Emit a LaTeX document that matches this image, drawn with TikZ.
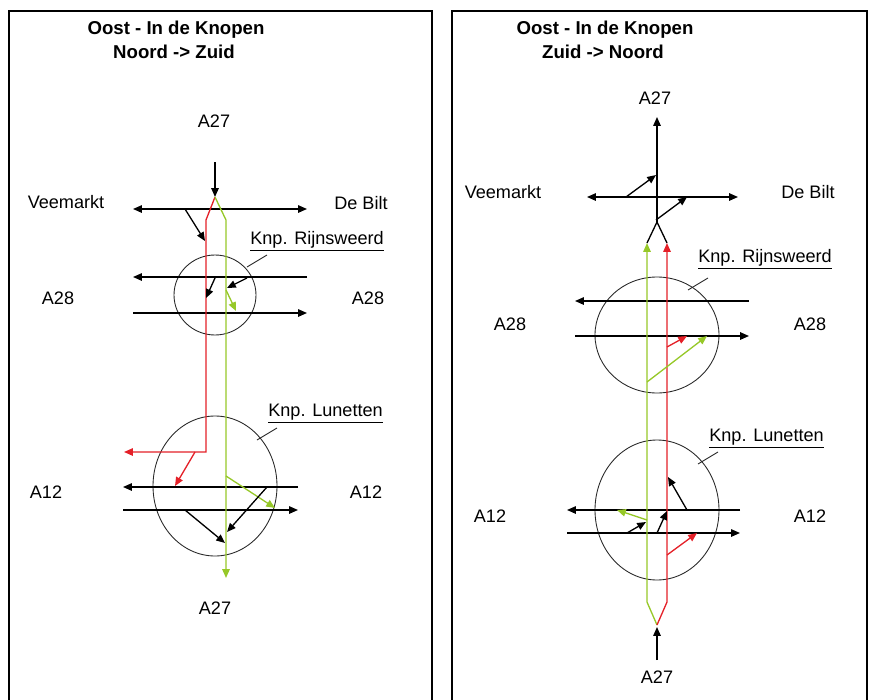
\documentclass[tikz,border=0pt]{standalone}
\usepackage{fontspec}
\setmainfont{Liberation Sans}
\usetikzlibrary{arrows.meta}
\definecolor{rroute}{RGB}{228,32,40}
\definecolor{groute}{RGB}{150,200,40}
\definecolor{ringc}{RGB}{40,40,40}
\tikzset{
  tip/.style={-{Triangle[length=5pt,width=4.2pt]}},
  dtip/.style={{Triangle[length=5pt,width=4.2pt]}-{Triangle[length=5pt,width=4.2pt]}},
  road/.style={black,line width=0.75pt},
  rr/.style={rroute,line width=0.75pt},
  gr/.style={groute,line width=0.75pt},
  ring/.style={ringc,line width=0.5pt},
  lbl/.style={font=\fontsize{10.3}{12}\selectfont,inner sep=0pt},
  ttl/.style={font=\fontsize{10.6}{13}\selectfont\bfseries,inner sep=0pt,align=center},
  frame/.style={black,line width=0.6pt}
}
\begin{document}
\begin{tikzpicture}[x=0.02cm,y=-0.02cm]
\useasboundingbox (0,0) rectangle (870,700);
% frames (open at the bottom, cut by the image edge)
\draw[frame] (9,702) -- (9,11) -- (432,11) -- (432,702);
\draw[frame] (452,702) -- (452,11) -- (867,11) -- (867,702);

% ================= LEFT PANEL =================
\node[ttl] (t1) at (176,30) {Oost - In de Knopen};
\node[ttl] (t2) at (174,52) {Noord -> Zuid};
\node[lbl] (la27t) at (214,121) {A27};
\node[lbl] (lvee) at (66,202) {Veemarkt};
\node[lbl] (lbilt) at (361,203) {De Bilt};
\node[lbl] (la28l) at (58,298) {A28};
\node[lbl] (la28r) at (368,298) {A28};
\node[lbl] (la12l) at (46,492) {A12};
\node[lbl] (la12r) at (366,492) {A12};
\node[lbl] (la27b) at (215,608) {A27};
\node[lbl,anchor=base west] (lknp1) at (250,244) {\underline{Knp. Rijnsweerd}};
\node[lbl,anchor=base west] (lknp2) at (268,416) {\underline{Knp. Lunetten}};

% circles
\draw[ring] (215,295) ellipse [x radius=41, y radius=40];
\draw[ring] (215,486) ellipse [x radius=62, y radius=70];
\draw[ring] (267,255) -- (247,267);
\draw[ring] (277,428) -- (257,440);

% A27 in
\draw[road,tip] (215,162) -- (215,197);
% Veemarkt - De Bilt
\draw[road,dtip] (133,209) -- (307,209);
% A28 lines
\draw[road,tip] (307,277) -- (133,277);
\draw[road,tip] (133,313) -- (307,313);
% A12 lines
\draw[road,tip] (298,487) -- (123,487);
\draw[road,tip] (123,510) -- (298,510);

% routes
\draw[rr,tip] (215,197) -- (206,220) -- (206,452) -- (124,452);
\draw[gr,tip] (215,197) -- (226,220) -- (226,578);

% small arrows left
\draw[road,tip] (185,209) -- (205,241);
\draw[road,tip] (215,278) -- (206,298);
\draw[road,tip] (247,278) -- (227,288);
\draw[gr,tip] (226,290) -- (236,311);
\draw[rr,tip] (195,452) -- (175,486);
\draw[gr,tip] (226,476) -- (275,508);
\draw[road,tip] (267,487) -- (227,532);
\draw[road,tip] (185,510) -- (225,543);

% ================= RIGHT PANEL =================
\node[ttl] (t3) at (605,30) {Oost - In de Knopen};
\node[ttl] (t4) at (603,52) {Zuid -> Noord};
\node[lbl] (ra27t) at (655,98) {A27};
\node[lbl] (rvee) at (503,192) {Veemarkt};
\node[lbl] (rbilt) at (808,192) {De Bilt};
\node[lbl] (ra28l) at (510,324) {A28};
\node[lbl] (ra28r) at (810,324) {A28};
\node[lbl] (ra12l) at (490,516) {A12};
\node[lbl] (ra12r) at (810,516) {A12};
\node[lbl] (ra27b) at (657,677) {A27};
\node[lbl,anchor=base west] (rknp1) at (698,262) {\underline{Knp. Rijnsweerd}};
\node[lbl,anchor=base west] (rknp2) at (709,441) {\underline{Knp. Lunetten}};

% circles
\draw[ring] (657,335) ellipse [x radius=62, y radius=58];
\draw[ring] (657,510) ellipse [x radius=62, y radius=70];
\draw[ring] (708,278) -- (688,290);
\draw[ring] (718,452) -- (698,464);

% A27 in (bottom)
\draw[road,tip] (657,660) -- (657,627);
% fork and A27 out
\draw[road] (647,243) -- (657,222) -- (667,243);
\draw[road,tip] (657,222) -- (657,117);
% Veemarkt - De Bilt
\draw[road,dtip] (587,197) -- (738,197);
% A28 lines
\draw[road,tip] (749,301) -- (575,301);
\draw[road,tip] (575,336) -- (749,336);
% A12 lines
\draw[road,tip] (740,510) -- (567,510);
\draw[road,tip] (567,533) -- (740,533);

% routes
\draw[gr,tip] (657,625) -- (647,602) -- (647,243);
\draw[rr,tip] (657,625) -- (667,602) -- (667,243);

% small arrows right
\draw[road,tip] (626,197) -- (656,175);
\draw[road,tip] (656,220) -- (687,197);
\draw[rr,tip] (667,347) -- (687,336);
\draw[gr,tip] (647,382) -- (707,336);
\draw[road,tip] (687,510) -- (668,477);
\draw[gr,tip] (647,520) -- (617,510);
\draw[road,tip] (627,533) -- (646,522);
\draw[road,tip] (657,533) -- (667,511);
\draw[rr,tip] (667,555) -- (697,533);
\end{tikzpicture}
\end{document}
